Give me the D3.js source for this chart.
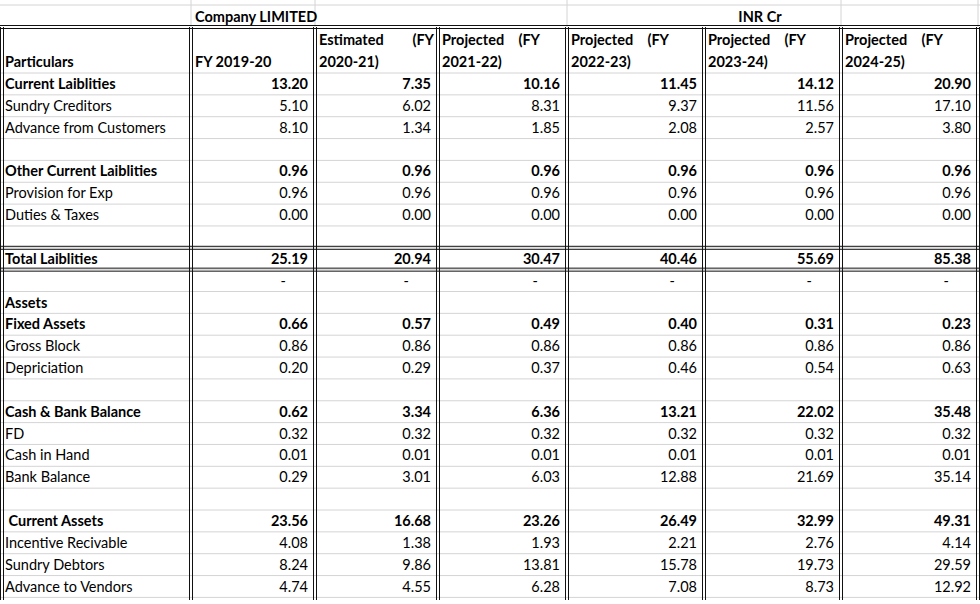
<!DOCTYPE html>
<html><head><meta charset="utf-8">
<script src="https://cdn.jsdelivr.net/npm/d3@7"></script>
<style>body{margin:0;background:#fff}</style>
</head><body>
<script>
// column headers
var years = ["FY 2019-20", "Estimated (FY|2020-21)", "Projected (FY|2021-22)",
             "Projected (FY|2022-23)", "Projected (FY|2023-24)", "Projected (FY|2024-25)"];

// row labels ("" = blank row), bold rows flagged
var labels = ["Current Laiblities", "Sundry Creditors", "Advance from Customers", "",
  "Other Current Laiblities", "Provision for Exp", "Duties & Taxes", "",
  "Total Laiblities", "", "Assets", "Fixed Assets", "Gross Block", "Depriciation", "",
  "Cash & Bank Balance", "FD", "Cash in Hand", "Bank Balance", "",
  " Current Assets", "Incentive Recivable", "Sundry Debtors", "Advance to Vendors"];
var bold = [1,0,0,0,1,0,0,0,1,0,1,1,0,0,0,1,0,0,0,0,1,0,0,0];

var values = [
  ["13.20","7.35","10.16","11.45","14.12","20.90"],
  ["5.10","6.02","8.31","9.37","11.56","17.10"],
  ["8.10","1.34","1.85","2.08","2.57","3.80"],
  null,
  ["0.96","0.96","0.96","0.96","0.96","0.96"],
  ["0.96","0.96","0.96","0.96","0.96","0.96"],
  ["0.00","0.00","0.00","0.00","0.00","0.00"],
  null,
  ["25.19","20.94","30.47","40.46","55.69","85.38"],
  ["-","-","-","-","-","-"],
  null,
  ["0.66","0.57","0.49","0.40","0.31","0.23"],
  ["0.86","0.86","0.86","0.86","0.86","0.86"],
  ["0.20","0.29","0.37","0.46","0.54","0.63"],
  null,
  ["0.62","3.34","6.36","13.21","22.02","35.48"],
  ["0.32","0.32","0.32","0.32","0.32","0.32"],
  ["0.01","0.01","0.01","0.01","0.01","0.01"],
  ["0.29","3.01","6.03","12.88","21.69","35.14"],
  null,
  ["23.56","16.68","23.26","26.49","32.99","49.31"],
  ["4.08","1.38","1.93","2.21","2.76","4.14"],
  ["8.24","9.86","13.81","15.78","19.73","29.59"],
  ["4.74","4.55","6.28","7.08","8.73","12.92"]
];

var colEdges = [2, 191, 315, 438, 567, 704, 841, 978];
var rowH = 21.85, firstRow = 73, width = 980, height = 604;
var font = "Lato, 'Open Sans', sans-serif";

var svg = d3.select("body").append("svg")
  .attr("width", width).attr("height", height)
  .style("font-family", font).style("font-size", "14.5px");

var y = d3.scaleLinear().domain([0, 1]).range([firstRow, firstRow + rowH]);

// light grid
var g = svg.append("g").attr("stroke", "#d4d4d4").attr("stroke-width", 1);
d3.range(labels.length + 1).forEach(function(i) {
  g.append("line").attr("x1", 0).attr("x2", width).attr("y1", y(i)).attr("y2", y(i));
});
g.append("line").attr("x1", 0).attr("x2", width).attr("y1", 5).attr("y2", 5);
[191, 315, 567, 841, 978].forEach(function(x) {
  g.append("line").attr("x1", x).attr("x2", x).attr("y1", 0).attr("y2", 27);
});

// double borders
var b = svg.append("g").attr("stroke", "#111").attr("stroke-width", 1).attr("fill", "none");
function dbl(x1, y1, x2, y2) {
  var dx = y1 === y2 ? 0 : 1.5, dy = y1 === y2 ? 1.5 : 0;
  b.append("line").attr("x1", x1 - dx).attr("x2", x2 - dx).attr("y1", y1 - dy).attr("y2", y2 - dy);
  b.append("line").attr("x1", x1 + dx).attr("x2", x2 + dx).attr("y1", y1 + dy).attr("y2", y2 + dy);
}
colEdges.forEach(function(x) { dbl(x, 27, x, 600); });
dbl(0, 27, width, 27);
dbl(0, y(8), width, y(8));
dbl(0, y(9), width, y(9));

// header texts
svg.append("text").attr("x", 195).attr("y", 22).attr("font-weight", "bold").text("Company LIMITED");
svg.append("text").attr("x", 760).attr("y", 22).attr("text-anchor", "middle").attr("font-weight", "bold").text("INR Cr");
svg.append("text").attr("x", 5).attr("y", 67).attr("font-weight", "bold").text("Particulars");

years.forEach(function(t, j) {
  var parts = t.split("|"), x0 = colEdges[j + 1] + 4, x1 = colEdges[j + 2] - 4;
  if (parts.length === 1) {
    svg.append("text").attr("x", x0).attr("y", 67).attr("font-weight", "bold").text(t);
  } else {
    var w = parts[0].split(" ");
    var fyX = j === 1 ? x1 : x0 + 98;
    svg.append("text").attr("x", x0).attr("y", 45).attr("font-weight", "bold").text(w[0]);
    svg.append("text").attr("x", fyX).attr("y", 45).attr("text-anchor", "end").attr("font-weight", "bold").text(w[1]);
    svg.append("text").attr("x", x0).attr("y", 67).attr("font-weight", "bold").text(parts[1]);
  }
});

// body rows
labels.forEach(function(l, i) {
  var yy = y(i) + 16;
  svg.append("text").attr("x", 5).attr("y", yy).attr("font-weight", bold[i] ? "bold" : "normal")
    .attr("xml:space", "preserve").text(l);
  if (!values[i]) return;
  values[i].forEach(function(v, j) {
    var right = colEdges[j + 2] - 7;
    svg.append("text").attr("x", v === "-" ? right - 22 : right).attr("y", yy)
      .attr("text-anchor", "end").attr("font-weight", bold[i] ? "bold" : "normal").text(v);
  });
});
</script>
</body></html>
